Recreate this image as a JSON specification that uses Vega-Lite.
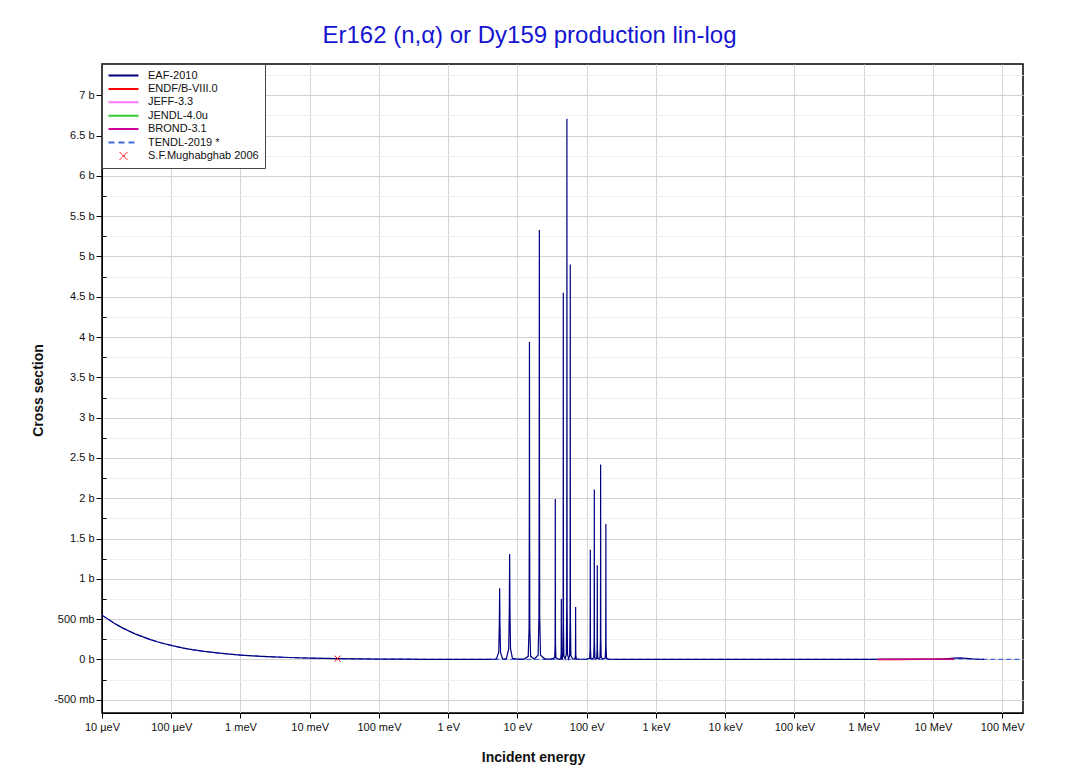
{
  "$schema": "https://vega.github.io/schema/vega-lite/v6.json",
  "width": 921,
  "height": 649,
  "autosize": {"type": "none"},
  "padding": {"left": 102, "top": 64, "right": 44, "bottom": 61},
  "background": "#ffffff",
  "title": {
    "text": "Er162 (n,α) or Dy159 production lin-log",
    "font": "Liberation Sans",
    "fontSize": 24,
    "fontWeight": "normal",
    "color": "#1515d0",
    "anchor": "middle",
    "dx": -33,
    "offset": -3,
    "baseline": "alphabetic"
  },
  "config": {
    "view": {"stroke": "#000000", "strokeWidth": 1.5},
    "axis": {"labelFont": "Liberation Sans", "titleFont": "Liberation Sans"}
  },
  "data": {
    "values": [
      {"lib": "EAF-2010", "E": 1e-5, "xs": 0.55},
      {"lib": "EAF-2010", "E": 1.5e-5, "xs": 0.449},
      {"lib": "EAF-2010", "E": 2e-5, "xs": 0.389},
      {"lib": "EAF-2010", "E": 3e-5, "xs": 0.3175},
      {"lib": "EAF-2010", "E": 5e-5, "xs": 0.246},
      {"lib": "EAF-2010", "E": 7e-5, "xs": 0.2079},
      {"lib": "EAF-2010", "E": 1e-4, "xs": 0.174},
      {"lib": "EAF-2010", "E": 1.5e-4, "xs": 0.142},
      {"lib": "EAF-2010", "E": 2e-4, "xs": 0.123},
      {"lib": "EAF-2010", "E": 3e-4, "xs": 0.1004},
      {"lib": "EAF-2010", "E": 5e-4, "xs": 0.0778},
      {"lib": "EAF-2010", "E": 7e-4, "xs": 0.0657},
      {"lib": "EAF-2010", "E": 1e-3, "xs": 0.055},
      {"lib": "EAF-2010", "E": 1.5e-3, "xs": 0.0449},
      {"lib": "EAF-2010", "E": 2e-3, "xs": 0.0389},
      {"lib": "EAF-2010", "E": 3e-3, "xs": 0.0318},
      {"lib": "EAF-2010", "E": 5e-3, "xs": 0.0246},
      {"lib": "EAF-2010", "E": 0.01, "xs": 0.0174},
      {"lib": "EAF-2010", "E": 0.0253, "xs": 0.0109},
      {"lib": "EAF-2010", "E": 0.05, "xs": 0.0078},
      {"lib": "EAF-2010", "E": 0.1, "xs": 0.0055},
      {"lib": "EAF-2010", "E": 0.2, "xs": 0.0039},
      {"lib": "EAF-2010", "E": 0.5, "xs": 0.0025},
      {"lib": "EAF-2010", "E": 1, "xs": 0.0018},
      {"lib": "EAF-2010", "E": 2, "xs": 0.0014},
      {"lib": "EAF-2010", "E": 3.5, "xs": 0.0015},
      {"lib": "EAF-2010", "E": 4.5, "xs": 0.003},
      {"lib": "EAF-2010", "E": 4.977, "xs": 0.0088},
      {"lib": "EAF-2010", "E": 5.364, "xs": 0.0885},
      {"lib": "EAF-2010", "E": 5.475, "xs": 0.4425},
      {"lib": "EAF-2010", "E": 5.53, "xs": 0.885},
      {"lib": "EAF-2010", "E": 5.585, "xs": 0.4425},
      {"lib": "EAF-2010", "E": 5.696, "xs": 0.0885},
      {"lib": "EAF-2010", "E": 6.083, "xs": 0.0088},
      {"lib": "EAF-2010", "E": 6.6, "xs": 0.005},
      {"lib": "EAF-2010", "E": 6.939, "xs": 0.013},
      {"lib": "EAF-2010", "E": 7.479, "xs": 0.131},
      {"lib": "EAF-2010", "E": 7.633, "xs": 0.655},
      {"lib": "EAF-2010", "E": 7.71, "xs": 1.31},
      {"lib": "EAF-2010", "E": 7.787, "xs": 0.655},
      {"lib": "EAF-2010", "E": 7.941, "xs": 0.131},
      {"lib": "EAF-2010", "E": 8.481, "xs": 0.013},
      {"lib": "EAF-2010", "E": 10, "xs": 0.004},
      {"lib": "EAF-2010", "E": 12.5, "xs": 0.005},
      {"lib": "EAF-2010", "E": 14.304, "xs": 0.039},
      {"lib": "EAF-2010", "E": 14.721, "xs": 0.394},
      {"lib": "EAF-2010", "E": 14.84, "xs": 1.97},
      {"lib": "EAF-2010", "E": 14.9, "xs": 3.94},
      {"lib": "EAF-2010", "E": 14.96, "xs": 1.97},
      {"lib": "EAF-2010", "E": 15.079, "xs": 0.394},
      {"lib": "EAF-2010", "E": 15.496, "xs": 0.039},
      {"lib": "EAF-2010", "E": 17.5, "xs": 0.006},
      {"lib": "EAF-2010", "E": 19.872, "xs": 0.053},
      {"lib": "EAF-2010", "E": 20.452, "xs": 0.533},
      {"lib": "EAF-2010", "E": 20.617, "xs": 2.665},
      {"lib": "EAF-2010", "E": 20.7, "xs": 5.33},
      {"lib": "EAF-2010", "E": 20.783, "xs": 2.665},
      {"lib": "EAF-2010", "E": 20.948, "xs": 0.533},
      {"lib": "EAF-2010", "E": 21.528, "xs": 0.053},
      {"lib": "EAF-2010", "E": 25, "xs": 0.005},
      {"lib": "EAF-2010", "E": 30, "xs": 0.004},
      {"lib": "EAF-2010", "E": 34.496, "xs": 0.0197},
      {"lib": "EAF-2010", "E": 34.989, "xs": 0.199},
      {"lib": "EAF-2010", "E": 35.13, "xs": 0.995},
      {"lib": "EAF-2010", "E": 35.2, "xs": 1.99},
      {"lib": "EAF-2010", "E": 35.27, "xs": 0.995},
      {"lib": "EAF-2010", "E": 35.411, "xs": 0.199},
      {"lib": "EAF-2010", "E": 35.904, "xs": 0.0197},
      {"lib": "EAF-2010", "E": 38.5, "xs": 0.005},
      {"lib": "EAF-2010", "E": 42.14, "xs": 0.0074},
      {"lib": "EAF-2010", "E": 42.742, "xs": 0.075},
      {"lib": "EAF-2010", "E": 42.914, "xs": 0.375},
      {"lib": "EAF-2010", "E": 43.0, "xs": 0.75},
      {"lib": "EAF-2010", "E": 43.086, "xs": 0.375},
      {"lib": "EAF-2010", "E": 43.258, "xs": 0.075},
      {"lib": "EAF-2010", "E": 43.86, "xs": 0.0074},
      {"lib": "EAF-2010", "E": 44.4, "xs": 0.006},
      {"lib": "EAF-2010", "E": 44.98, "xs": 0.045},
      {"lib": "EAF-2010", "E": 45.625, "xs": 0.455},
      {"lib": "EAF-2010", "E": 45.808, "xs": 2.275},
      {"lib": "EAF-2010", "E": 45.9, "xs": 4.55},
      {"lib": "EAF-2010", "E": 45.992, "xs": 2.275},
      {"lib": "EAF-2010", "E": 46.175, "xs": 0.455},
      {"lib": "EAF-2010", "E": 46.82, "xs": 0.045},
      {"lib": "EAF-2010", "E": 48.8, "xs": 0.008},
      {"lib": "EAF-2010", "E": 50.76, "xs": 0.066},
      {"lib": "EAF-2010", "E": 51.489, "xs": 0.671},
      {"lib": "EAF-2010", "E": 51.696, "xs": 3.355},
      {"lib": "EAF-2010", "E": 51.8, "xs": 6.71},
      {"lib": "EAF-2010", "E": 51.904, "xs": 3.355},
      {"lib": "EAF-2010", "E": 52.111, "xs": 0.671},
      {"lib": "EAF-2010", "E": 52.84, "xs": 0.066},
      {"lib": "EAF-2010", "E": 54.8, "xs": 0.008},
      {"lib": "EAF-2010", "E": 56.74, "xs": 0.0485},
      {"lib": "EAF-2010", "E": 57.553, "xs": 0.49},
      {"lib": "EAF-2010", "E": 57.784, "xs": 2.45},
      {"lib": "EAF-2010", "E": 57.9, "xs": 4.9},
      {"lib": "EAF-2010", "E": 58.016, "xs": 2.45},
      {"lib": "EAF-2010", "E": 58.247, "xs": 0.49},
      {"lib": "EAF-2010", "E": 59.06, "xs": 0.0485},
      {"lib": "EAF-2010", "E": 63, "xs": 0.006},
      {"lib": "EAF-2010", "E": 67.82, "xs": 0.0064},
      {"lib": "EAF-2010", "E": 68.785, "xs": 0.065},
      {"lib": "EAF-2010", "E": 69.062, "xs": 0.325},
      {"lib": "EAF-2010", "E": 69.2, "xs": 0.65},
      {"lib": "EAF-2010", "E": 69.338, "xs": 0.325},
      {"lib": "EAF-2010", "E": 69.615, "xs": 0.065},
      {"lib": "EAF-2010", "E": 70.58, "xs": 0.0064},
      {"lib": "EAF-2010", "E": 80, "xs": 0.003},
      {"lib": "EAF-2010", "E": 100, "xs": 0.004},
      {"lib": "EAF-2010", "E": 110.45, "xs": 0.0135},
      {"lib": "EAF-2010", "E": 112.02, "xs": 0.136},
      {"lib": "EAF-2010", "E": 112.47, "xs": 0.68},
      {"lib": "EAF-2010", "E": 112.7, "xs": 1.36},
      {"lib": "EAF-2010", "E": 112.93, "xs": 0.68},
      {"lib": "EAF-2010", "E": 113.38, "xs": 0.136},
      {"lib": "EAF-2010", "E": 114.95, "xs": 0.0135},
      {"lib": "EAF-2010", "E": 120.5, "xs": 0.006},
      {"lib": "EAF-2010", "E": 126.22, "xs": 0.021},
      {"lib": "EAF-2010", "E": 128.03, "xs": 0.211},
      {"lib": "EAF-2010", "E": 128.54, "xs": 1.055},
      {"lib": "EAF-2010", "E": 128.8, "xs": 2.11},
      {"lib": "EAF-2010", "E": 129.06, "xs": 1.055},
      {"lib": "EAF-2010", "E": 129.57, "xs": 0.211},
      {"lib": "EAF-2010", "E": 131.38, "xs": 0.021},
      {"lib": "EAF-2010", "E": 135.3, "xs": 0.007},
      {"lib": "EAF-2010", "E": 139.36, "xs": 0.0116},
      {"lib": "EAF-2010", "E": 141.35, "xs": 0.117},
      {"lib": "EAF-2010", "E": 141.92, "xs": 0.585},
      {"lib": "EAF-2010", "E": 142.2, "xs": 1.17},
      {"lib": "EAF-2010", "E": 142.48, "xs": 0.585},
      {"lib": "EAF-2010", "E": 143.05, "xs": 0.117},
      {"lib": "EAF-2010", "E": 145.04, "xs": 0.0116},
      {"lib": "EAF-2010", "E": 150.3, "xs": 0.007},
      {"lib": "EAF-2010", "E": 155.72, "xs": 0.024},
      {"lib": "EAF-2010", "E": 157.95, "xs": 0.242},
      {"lib": "EAF-2010", "E": 158.58, "xs": 1.21},
      {"lib": "EAF-2010", "E": 158.9, "xs": 2.42},
      {"lib": "EAF-2010", "E": 159.22, "xs": 1.21},
      {"lib": "EAF-2010", "E": 159.85, "xs": 0.242},
      {"lib": "EAF-2010", "E": 162.08, "xs": 0.024},
      {"lib": "EAF-2010", "E": 172, "xs": 0.006},
      {"lib": "EAF-2010", "E": 185.42, "xs": 0.0166},
      {"lib": "EAF-2010", "E": 188.06, "xs": 0.168},
      {"lib": "EAF-2010", "E": 188.82, "xs": 0.84},
      {"lib": "EAF-2010", "E": 189.2, "xs": 1.68},
      {"lib": "EAF-2010", "E": 189.58, "xs": 0.84},
      {"lib": "EAF-2010", "E": 190.34, "xs": 0.168},
      {"lib": "EAF-2010", "E": 192.98, "xs": 0.0166},
      {"lib": "EAF-2010", "E": 210, "xs": 0.003},
      {"lib": "EAF-2010", "E": 300, "xs": 0.0015},
      {"lib": "EAF-2010", "E": 1000, "xs": 0.0005},
      {"lib": "EAF-2010", "E": 1e4, "xs": 0.0002},
      {"lib": "EAF-2010", "E": 1e5, "xs": 0.0002},
      {"lib": "EAF-2010", "E": 1e6, "xs": 0.0004},
      {"lib": "EAF-2010", "E": 3e6, "xs": 0.001},
      {"lib": "EAF-2010", "E": 1e7, "xs": 0.003},
      {"lib": "EAF-2010", "E": 1.5e7, "xs": 0.008},
      {"lib": "EAF-2010", "E": 2e7, "xs": 0.018},
      {"lib": "EAF-2010", "E": 2.5e7, "xs": 0.02},
      {"lib": "EAF-2010", "E": 3e7, "xs": 0.014},
      {"lib": "EAF-2010", "E": 4e7, "xs": 0.006},
      {"lib": "EAF-2010", "E": 5.5e7, "xs": 0.002},
      {"lib": "TENDL-2019 *", "E": 1e-5, "xs": 0.55},
      {"lib": "TENDL-2019 *", "E": 1.5e-5, "xs": 0.449},
      {"lib": "TENDL-2019 *", "E": 2e-5, "xs": 0.389},
      {"lib": "TENDL-2019 *", "E": 3e-5, "xs": 0.3175},
      {"lib": "TENDL-2019 *", "E": 5e-5, "xs": 0.246},
      {"lib": "TENDL-2019 *", "E": 7e-5, "xs": 0.2079},
      {"lib": "TENDL-2019 *", "E": 1e-4, "xs": 0.174},
      {"lib": "TENDL-2019 *", "E": 1.5e-4, "xs": 0.142},
      {"lib": "TENDL-2019 *", "E": 2e-4, "xs": 0.123},
      {"lib": "TENDL-2019 *", "E": 3e-4, "xs": 0.1004},
      {"lib": "TENDL-2019 *", "E": 5e-4, "xs": 0.0778},
      {"lib": "TENDL-2019 *", "E": 7e-4, "xs": 0.0657},
      {"lib": "TENDL-2019 *", "E": 1e-3, "xs": 0.055},
      {"lib": "TENDL-2019 *", "E": 1.5e-3, "xs": 0.0449},
      {"lib": "TENDL-2019 *", "E": 2e-3, "xs": 0.0389},
      {"lib": "TENDL-2019 *", "E": 3e-3, "xs": 0.0318},
      {"lib": "TENDL-2019 *", "E": 5e-3, "xs": 0.0246},
      {"lib": "TENDL-2019 *", "E": 0.01, "xs": 0.0174},
      {"lib": "TENDL-2019 *", "E": 0.0253, "xs": 0.0109},
      {"lib": "TENDL-2019 *", "E": 0.05, "xs": 0.0078},
      {"lib": "TENDL-2019 *", "E": 0.1, "xs": 0.0055},
      {"lib": "TENDL-2019 *", "E": 0.2, "xs": 0.0039},
      {"lib": "TENDL-2019 *", "E": 0.5, "xs": 0.0025},
      {"lib": "TENDL-2019 *", "E": 1, "xs": 0.0018},
      {"lib": "TENDL-2019 *", "E": 10, "xs": 0.002},
      {"lib": "TENDL-2019 *", "E": 100, "xs": 0.003},
      {"lib": "TENDL-2019 *", "E": 1000, "xs": 0.0008},
      {"lib": "TENDL-2019 *", "E": 1e4, "xs": 0.0003},
      {"lib": "TENDL-2019 *", "E": 1e5, "xs": 0.0002},
      {"lib": "TENDL-2019 *", "E": 1e6, "xs": 0.0003},
      {"lib": "TENDL-2019 *", "E": 1e7, "xs": 0.002},
      {"lib": "TENDL-2019 *", "E": 2e7, "xs": 0.006},
      {"lib": "TENDL-2019 *", "E": 3e7, "xs": 0.006},
      {"lib": "TENDL-2019 *", "E": 5e7, "xs": 0.003},
      {"lib": "TENDL-2019 *", "E": 1e8, "xs": 0.001},
      {"lib": "TENDL-2019 *", "E": 2e8, "xs": 0.0005},
      {"lib": "JEFF-3.3", "E": 1.58e6, "xs": 0.0005},
      {"lib": "JEFF-3.3", "E": 5e6, "xs": 0.0012},
      {"lib": "JEFF-3.3", "E": 1e7, "xs": 0.002},
      {"lib": "JEFF-3.3", "E": 2e7, "xs": 0.003},
      {"lib": "JENDL-4.0u", "E": 1.58e6, "xs": 0.0005},
      {"lib": "JENDL-4.0u", "E": 5e6, "xs": 0.0012},
      {"lib": "JENDL-4.0u", "E": 1e7, "xs": 0.002},
      {"lib": "JENDL-4.0u", "E": 2e7, "xs": 0.003},
      {"lib": "ENDF/B-VIII.0", "E": 1.58e6, "xs": 0.0005},
      {"lib": "ENDF/B-VIII.0", "E": 3e6, "xs": 0.001},
      {"lib": "ENDF/B-VIII.0", "E": 6e6, "xs": 0.0015},
      {"lib": "ENDF/B-VIII.0", "E": 1e7, "xs": 0.002},
      {"lib": "ENDF/B-VIII.0", "E": 1.5e7, "xs": 0.0025},
      {"lib": "ENDF/B-VIII.0", "E": 2e7, "xs": 0.003},
      {"lib": "BROND-3.1", "E": 1.58e6, "xs": 0.0},
      {"lib": "BROND-3.1", "E": 3e6, "xs": 0.0008},
      {"lib": "BROND-3.1", "E": 6e6, "xs": 0.0012},
      {"lib": "BROND-3.1", "E": 1e7, "xs": 0.0018},
      {"lib": "BROND-3.1", "E": 1.5e7, "xs": 0.002},
      {"lib": "BROND-3.1", "E": 2e7, "xs": 0.0025},
      {"lib": "S.F.Mughabghab 2006", "E": 0.0253, "xs": 0.011}
    ]
  },
  "encoding": {
    "x": {
      "field": "E",
      "type": "quantitative",
      "scale": {"type": "log", "domain": [1e-5, 2e8], "nice": false},
      "axis": {
        "title": "Incident energy",
        "values": [1e-5, 1e-4, 1e-3, 1e-2, 1e-1, 1, 10, 100, 1000, 1e4, 1e5, 1e6, 1e7, 1e8],
        "labelExpr": "['10 µeV','100 µeV','1 meV','10 meV','100 meV','1 eV','10 eV','100 eV','1 keV','10 keV','100 keV','1 MeV','10 MeV','100 MeV'][round(log(datum.value)/LN10)+5]",
        "labelOverlap": false,
        "labelFlush": false,
        "labelFontSize": 11,
        "labelColor": "#111111",
        "labelPadding": 3,
        "grid": true,
        "gridColor": "#d6d6d6",
        "gridWidth": 1,
        "tickSize": 5,
        "tickColor": "#000000",
        "domainColor": "#000000",
        "titleFontSize": 14,
        "titleFontWeight": "bold",
        "titleColor": "#111111",
        "titleX": 431,
        "titleY": 48,
        "titleBaseline": "alphabetic",
        "titleAlign": "center"
      }
    },
    "y": {
      "field": "xs",
      "type": "quantitative",
      "scale": {"domain": [-0.664, 7.388], "nice": false, "zero": false},
      "axis": {
        "title": "Cross section",
        "values": [-0.5, -0.25, 0, 0.25, 0.5, 0.75, 1, 1.25, 1.5, 1.75, 2, 2.25, 2.5, 2.75, 3, 3.25, 3.5, 3.75, 4, 4.25, 4.5, 4.75, 5, 5.25, 5.5, 5.75, 6, 6.25, 6.5, 6.75, 7, 7.25],
        "labelExpr": "datum.value % 0.5 !== 0 ? '' : (datum.value === 0 ? '0 b' : (abs(datum.value) < 1 ? (datum.value < 0 ? '-' : '') + format(abs(datum.value) * 1000, 'd') + ' mb' : datum.value + ' b'))",
        "labelOverlap": false,
        "labelFontSize": 11,
        "labelColor": "#111111",
        "labelPadding": 2,
        "grid": true,
        "gridColor": {"condition": {"test": "datum.value % 0.5 !== 0", "value": "#efefef"}, "value": "#d2d2d2"},
        "gridWidth": 1,
        "tickSize": {"condition": {"test": "datum.value % 0.5 !== 0", "value": -4}, "value": 6},
        "tickColor": "#000000",
        "domainColor": "#000000",
        "titleFontSize": 14,
        "titleFontWeight": "bold",
        "titleColor": "#111111",
        "titleAngle": 270,
        "titleX": -60,
        "titleY": 326,
        "titleBaseline": "alphabetic",
        "titleAlign": "center"
      }
    },
    "color": {
      "field": "lib",
      "type": "nominal",
      "scale": {
        "domain": ["EAF-2010", "ENDF/B-VIII.0", "JEFF-3.3", "JENDL-4.0u", "BROND-3.1", "TENDL-2019 *", "S.F.Mughabghab 2006"],
        "range": ["#000080", "#ff0000", "#ff77ff", "#33cc33", "#cc0099", "#4169e1", "#ff0000"]
      },
      "legend": {
        "title": null,
        "orient": "none",
        "legendX": 0,
        "legendY": 0,
        "padding": 6,
        "rowPadding": 1.4,
        "symbolSize": 100,
        "symbolStrokeWidth": 2,
        "symbolType": "M-1,0H5",
        "labelFont": "Liberation Sans",
        "labelFontSize": 11,
        "labelColor": "#111111",
        "labelOffset": 29,
        "strokeColor": "#444444",
        "fillColor": "#ffffff",
        "encode": {
          "symbols": {
            "update": {
              "shape": {"signal": "datum.value === 'S.F.Mughabghab 2006' ? 'M1.2,-0.8L2.8,0.8M1.2,0.8L2.8,-0.8' : 'M-1,0H5'"},
              "strokeDash": {"signal": "datum.value === 'TENDL-2019 *' ? [6, 4] : [1, 0]"},
              "strokeWidth": {"signal": "datum.value === 'S.F.Mughabghab 2006' ? 1 : 2"},
              "fill": {"value": "transparent"},
              "opacity": {"value": 1}
            }
          }
        }
      }
    }
  },
  "layer": [
    {
      "transform": [{"filter": "datum.lib === 'TENDL-2019 *'"}],
      "mark": {"type": "line", "strokeWidth": 1.2, "strokeDash": [5, 3], "clip": true}
    },
    {
      "transform": [{"filter": "datum.lib === 'JEFF-3.3'"}],
      "mark": {"type": "line", "strokeWidth": 1.2, "clip": true}
    },
    {
      "transform": [{"filter": "datum.lib === 'JENDL-4.0u'"}],
      "mark": {"type": "line", "strokeWidth": 1.2, "clip": true}
    },
    {
      "transform": [{"filter": "datum.lib === 'EAF-2010'"}],
      "mark": {"type": "line", "strokeWidth": 1.2, "clip": true}
    },
    {
      "transform": [{"filter": "datum.lib === 'ENDF/B-VIII.0'"}],
      "mark": {"type": "line", "strokeWidth": 1.5, "clip": true}
    },
    {
      "transform": [{"filter": "datum.lib === 'BROND-3.1'"}],
      "mark": {"type": "line", "strokeWidth": 1.2, "clip": true}
    },
    {
      "transform": [{"filter": "datum.lib === 'S.F.Mughabghab 2006'"}],
      "mark": {"type": "point", "shape": "M-1,-1L1,1M-1,1L1,-1", "size": 36, "filled": false, "strokeWidth": 1, "opacity": 1}
    }
  ]
}
